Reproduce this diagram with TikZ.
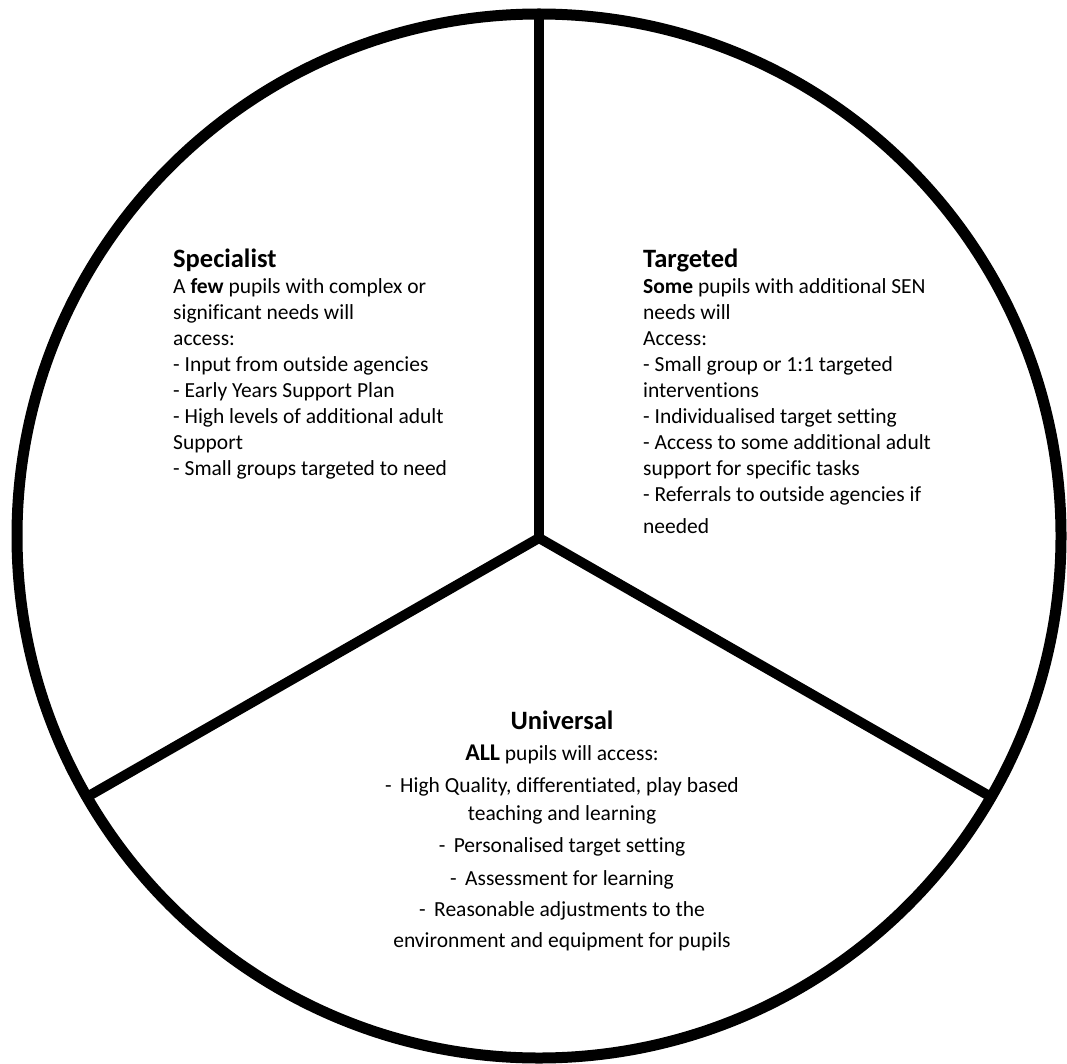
\documentclass[tikz,border=0pt]{standalone}
\usepackage{fontspec}
\setmainfont{Carlito}[Ligatures={NoCommon}]
\usetikzlibrary{positioning}

\newcommand{\tiername}[1]{{\fontsize{26.5}{26}\selectfont\bfseries #1}}

\begin{document}
\begin{tikzpicture}[
    x=1pt,y=-1pt,
    rim/.style={draw,circle,line width=11pt,minimum size=1044pt,inner sep=0pt,outer sep=0pt},
    spoke/.style={line width=10pt},
    blurb/.style={inner sep=0pt,align=left,font=\fontsize{21.5}{26}\selectfont},
    mainblurb/.style={inner sep=0pt,align=center,font=\fontsize{21.5}{31}\selectfont}
]
\useasboundingbox (0,0) rectangle (1067,1064);
\coordinate (hub) at (539,538);
\node[rim] (rim) at (539,536) {};
\draw[spoke] (hub) -- (rim.90);
\draw[spoke] (hub) -- (rim.210);
\draw[spoke] (hub) -- (rim.330);
\node[blurb,anchor=north west] (spec) at (173,249)
    {\tiername{Specialist}\\
     A \textbf{few} pupils with complex or\\
     significant needs will\\
     access:\\
     - Input from outside agencies\\
     - Early Years Support Plan\\
     - High levels of additional adult\\
     Support\\
     - Small groups targeted to need};
\node[blurb,anchor=north west] (targ) at (643,249)
    {\tiername{Targeted}\\
     \textbf{Some} pupils with additional SEN\\
     needs will\\
     Access:\\
     - Small group or 1:1 targeted\\
     interventions\\
     - Individualised target setting\\
     - Access to some additional adult\\
     support for specific tasks\\
     - Referrals to outside agencies if\\[6pt]
     needed};
\node[mainblurb,anchor=north] (univ) at (562,711)
    {\tiername{Universal}\\
     {\fontsize{24}{24}\selectfont\bfseries ALL} pupils will access:\\[1pt]
     -\, High Quality, differentiated, play based\\[-3pt]
     teaching and learning\\[1pt]
     -\, Personalised target setting\\[2pt]
     -\, Assessment for learning\\
     -\, Reasonable adjustments to the\\
     environment and equipment for pupils};
\end{tikzpicture}
\end{document}
